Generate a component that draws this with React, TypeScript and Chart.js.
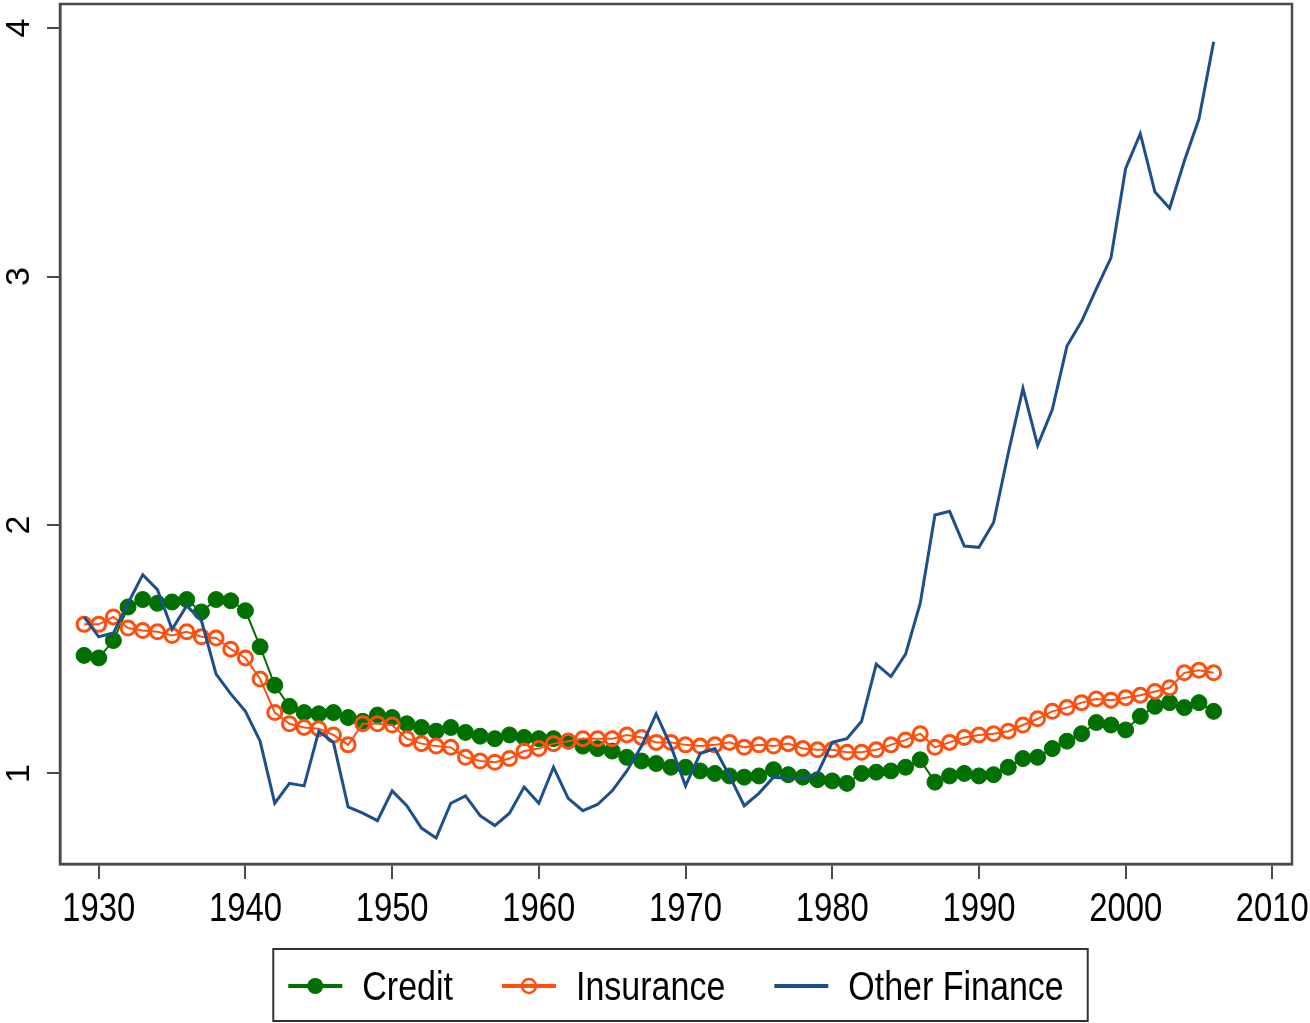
import { useEffect, useRef } from "react";
import { Chart, registerables } from "chart.js";

Chart.register(...registerables);

const years = [
  1929, 1930, 1931, 1932, 1933, 1934, 1935, 1936, 1937, 1938, 1939,
  1940, 1941, 1942, 1943, 1944, 1945, 1946, 1947, 1948, 1949,
  1950, 1951, 1952, 1953, 1954, 1955, 1956, 1957, 1958, 1959,
  1960, 1961, 1962, 1963, 1964, 1965, 1966, 1967, 1968, 1969,
  1970, 1971, 1972, 1973, 1974, 1975, 1976, 1977, 1978, 1979,
  1980, 1981, 1982, 1983, 1984, 1985, 1986, 1987, 1988, 1989,
  1990, 1991, 1992, 1993, 1994, 1995, 1996, 1997, 1998, 1999,
  2000, 2001, 2002, 2003, 2004, 2005, 2006,
];

const credit = [
  1.475, 1.465, 1.535, 1.67, 1.7, 1.685, 1.69, 1.7, 1.65, 1.7, 1.695,
  1.655, 1.51, 1.355, 1.27, 1.245, 1.24, 1.245, 1.225, 1.21, 1.235,
  1.225, 1.2, 1.185, 1.17, 1.185, 1.165, 1.15, 1.14, 1.155, 1.145,
  1.14, 1.14, 1.13, 1.11, 1.1, 1.09, 1.065, 1.05, 1.04, 1.025,
  1.025, 1.01, 1.0, 0.99, 0.985, 0.99, 1.015, 0.995, 0.985, 0.975,
  0.97, 0.96, 1.0, 1.005, 1.01, 1.025, 1.055, 0.965, 0.99, 1.0,
  0.99, 0.995, 1.025, 1.06, 1.065, 1.1, 1.13, 1.16, 1.205, 1.195,
  1.175, 1.23, 1.27, 1.285, 1.265, 1.285, 1.25,
];

const insurance = [
  1.6, 1.6, 1.63, 1.585, 1.575, 1.57, 1.555, 1.57, 1.55, 1.545, 1.5,
  1.465, 1.38, 1.245, 1.2, 1.185, 1.18, 1.155, 1.115, 1.2, 1.2,
  1.195, 1.14, 1.12, 1.11, 1.105, 1.065, 1.05, 1.045, 1.06, 1.09,
  1.1, 1.12, 1.13, 1.14, 1.14, 1.14, 1.155, 1.145, 1.125, 1.125,
  1.115, 1.11, 1.115, 1.125, 1.105, 1.115, 1.11, 1.12, 1.1, 1.095,
  1.095, 1.085, 1.085, 1.095, 1.115, 1.135, 1.16, 1.105, 1.125, 1.145,
  1.155, 1.16, 1.17, 1.195, 1.22, 1.25, 1.265, 1.285, 1.3, 1.295,
  1.305, 1.315, 1.33, 1.345, 1.405, 1.415, 1.405,
];

const otherFinance = [
  1.63, 1.55, 1.565, 1.685, 1.8, 1.74, 1.58, 1.675, 1.615, 1.4, 1.32,
  1.25, 1.13, 0.88, 0.96, 0.95, 1.17, 1.125, 0.865, 0.84, 0.81,
  0.93, 0.87, 0.78, 0.74, 0.88, 0.91, 0.83, 0.79, 0.84, 0.945,
  0.88, 1.025, 0.9, 0.85, 0.875, 0.93, 1.01, 1.11, 1.24, 1.11,
  0.95, 1.08, 1.1, 0.99, 0.87, 0.92, 0.985, 0.98, 0.98, 1.0,
  1.125, 1.14, 1.21, 1.44, 1.39, 1.48, 1.685, 2.04, 2.055, 1.915,
  1.91, 2.01, 2.29, 2.55, 2.32, 2.465, 2.72, 2.82, 2.95, 3.075,
  3.435, 3.575, 3.34, 3.275, 3.465, 3.635, 3.945,
];

const seriesNames = ["Credit", "Insurance", "Other Finance"];
const xTicks = [1930, 1940, 1950, 1960, 1970, 1980, 1990, 2000, 2010];
const yTicks = [1, 2, 3, 4];

const GREEN = "#007000";
const ORANGE = "#ff4f0f";
const BLUE = "#1d4f8b";
const FRAME = "#4a4a4a";
const FONT = "'Liberation Sans', Arial, sans-serif";

export default function App() {
  const ref = useRef<HTMLCanvasElement | null>(null);

  useEffect(() => {
    if (!ref.current) return;

    const textPlugin = {
      id: "textPlugin",
      afterDraw(chart: any) {
        const { ctx, chartArea } = chart;
        ctx.save();
        // plot frame
        ctx.strokeStyle = FRAME;
        ctx.lineWidth = 2.5;
        ctx.strokeRect(chartArea.left, chartArea.top, chartArea.right - chartArea.left, chartArea.bottom - chartArea.top);

        ctx.fillStyle = "#000";

        // rotated y tick labels
        const ys = chart.scales.y;
        ctx.font = `34px ${FONT}`;
        ctx.textAlign = "center";
        ctx.textBaseline = "middle";
        for (const v of yTicks) {
          const py = ys.getPixelForValue(v);
          ctx.save();
          ctx.translate(20, py);
          ctx.rotate(-Math.PI / 2);
          ctx.fillText(String(v), 0, 0);
          ctx.restore();
        }

        // condensed x tick labels
        const xs = chart.scales.x;
        ctx.font = `40px ${FONT}`;
        ctx.textAlign = "center";
        ctx.textBaseline = "alphabetic";
        for (const v of xTicks) {
          const px = xs.getPixelForValue(v);
          ctx.save();
          ctx.translate(px, 921);
          ctx.scale(0.82, 1);
          ctx.fillText(String(v), 0, 0);
          ctx.restore();
        }

        // legend
        const SX = 0.85;
        const markerW = 54;
        const gapText = 20;
        const gapItem = 49;
        const colors = [GREEN, ORANGE, BLUE];
        ctx.font = `40px ${FONT}`;
        const widths = seriesNames.map((n) => ctx.measureText(n).width * SX);
        const total =
          widths.reduce((a, b) => a + b, 0) + seriesNames.length * (markerW + gapText) + (seriesNames.length - 1) * gapItem;
        const cx = (chartArea.left + chartArea.right) / 2;
        let x = cx - total / 2;
        const startX = x;
        const midY = 986;
        seriesNames.forEach((name, i) => {
          const col = colors[i];
          ctx.strokeStyle = col;
          ctx.lineWidth = 4;
          ctx.beginPath();
          ctx.moveTo(x, midY);
          ctx.lineTo(x + markerW, midY);
          ctx.stroke();
          if (i === 0) {
            ctx.fillStyle = col;
            ctx.beginPath();
            ctx.arc(x + markerW / 2, midY, 8, 0, Math.PI * 2);
            ctx.fill();
          } else if (i === 1) {
            ctx.lineWidth = 2.5;
            ctx.beginPath();
            ctx.arc(x + markerW / 2, midY, 7, 0, Math.PI * 2);
            ctx.stroke();
          }
          x += markerW + gapText;
          ctx.fillStyle = "#000";
          ctx.textAlign = "left";
          ctx.save();
          ctx.translate(x, 1000);
          ctx.scale(SX, 1);
          ctx.fillText(name, 0, 0);
          ctx.restore();
          x += widths[i] + gapItem;
        });
        const endX = x - gapItem;
        ctx.strokeStyle = "#333";
        ctx.lineWidth = 2;
        ctx.strokeRect(startX - 15, 949, endX - startX + 39, 72);
        ctx.restore();
      },
    };

    const chart = new Chart(ref.current, {
      type: "line",
      data: {
        datasets: [
          {
            label: seriesNames[0],
            data: years.map((x, i) => ({ x, y: credit[i] })),
            borderColor: GREEN,
            backgroundColor: GREEN,
            borderWidth: 2,
            pointRadius: 8,
            pointBorderWidth: 1,
            pointBackgroundColor: GREEN,
            pointBorderColor: GREEN,
            tension: 0,
            order: 2,
          },
          {
            label: seriesNames[1],
            data: years.map((x, i) => ({ x, y: insurance[i] })),
            borderColor: ORANGE,
            backgroundColor: "rgba(0,0,0,0)",
            borderWidth: 2,
            pointRadius: 7,
            pointBorderWidth: 3,
            pointBackgroundColor: "rgba(0,0,0,0)",
            pointBorderColor: ORANGE,
            tension: 0,
            order: 1,
          },
          {
            label: seriesNames[2],
            data: years.map((x, i) => ({ x, y: otherFinance[i] })),
            borderColor: BLUE,
            backgroundColor: BLUE,
            borderWidth: 3,
            pointRadius: 0,
            tension: 0,
            order: 0,
          },
        ],
      },
      options: {
        animation: false,
        responsive: false,
        devicePixelRatio: 1,
        layout: { autoPadding: false, padding: { left: 0, right: 18, top: 4, bottom: 106 } },
        scales: {
          x: {
            type: "linear",
            position: "bottom",
            min: 1927.36,
            max: 2011.34,
            afterBuildTicks: (s: any) => {
              s.ticks = xTicks.map((v) => ({ value: v }));
            },
            afterFit: (s: any) => {
              s.height = 53;
            },
            ticks: { display: false },
            grid: { drawOnChartArea: false, drawTicks: true, tickLength: 15, color: FRAME, lineWidth: 2 },
            border: { display: true, color: FRAME, width: 2.5 },
          },
          y: {
            type: "linear",
            min: 0.6355,
            max: 4.097,
            afterBuildTicks: (s: any) => {
              s.ticks = yTicks.map((v) => ({ value: v }));
            },
            afterFit: (s: any) => {
              s.width = 60;
            },
            ticks: { display: false },
            grid: { drawOnChartArea: false, drawTicks: true, tickLength: 13, color: FRAME, lineWidth: 2 },
            border: { display: true, color: FRAME, width: 2.5 },
          },
        },
        plugins: {
          tooltip: { enabled: false },
          legend: { display: false },
        },
      } as any,
      plugins: [textPlugin],
    });

    return () => chart.destroy();
  }, []);

  return (
    <div style={{ position: "fixed", left: 0, top: 0, width: 1310, height: 1023, background: "#fff" }}>
      <canvas ref={ref} width={1310} height={1023} style={{ display: "block" }} />
    </div>
  );
}
